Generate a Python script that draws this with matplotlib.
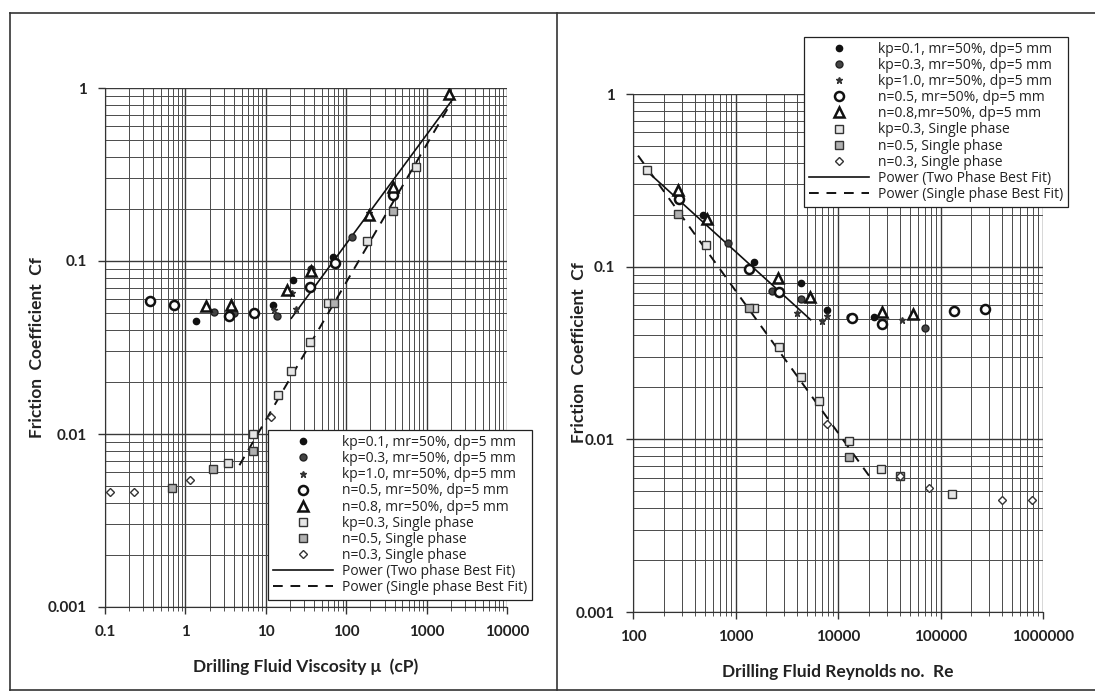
import matplotlib
matplotlib.use('Agg')
import matplotlib.pyplot as plt
from matplotlib.lines import Line2D
from matplotlib.ticker import LogLocator, FixedLocator, FixedFormatter, NullFormatter

plt.rcParams['font.family'] = ['Lato', 'DejaVu Sans']

# ---- left panel: friction coefficient vs viscosity (cP) ----
kp01_mu = [1.35, 12.2, 21.6, 68, 378]
kp01_mu_cf = [0.045, 0.056, 0.078, 0.106, 0.25]
kp03_mu = [2.3, 4.0, 13.6, 36, 117]
kp03_mu_cf = [0.051, 0.050, 0.048, 0.09, 0.138]
kp10_mu = [12.5, 24, 21, 190]
kp10_mu_cf = [0.052, 0.053, 0.065, 0.19]
n05_mu = [0.36, 0.72, 3.5, 7.1, 35.5, 72, 378]
n05_mu_cf = [0.059, 0.056, 0.048, 0.050, 0.071, 0.098, 0.24]
n08_mu = [1.8, 3.65, 18.2, 36, 190, 378, 1900]
n08_mu_cf = [0.055, 0.0557, 0.068, 0.087, 0.185, 0.267, 0.92]
sp_kp03_mu = [738, 183, 60, 35, 20.8, 14, 6.9, 3.4]
sp_kp03_mu_cf = [0.348, 0.131, 0.057, 0.034, 0.023, 0.0168, 0.00995, 0.0068]
sp_n05_mu = [378, 70, 6.9, 2.2, 0.69]
sp_n05_mu_cf = [0.195, 0.057, 0.008, 0.00625, 0.0049]
sp_n03_mu = [0.115, 0.23, 1.14, 11.5]
sp_n03_mu_cf = [0.00464, 0.00464, 0.0054, 0.0125]
tp_fit_mu = [20.8, 2150]
tp_fit_mu_cf = [0.0467, 0.87]
sp_fit_mu = [4.7, 2040]
sp_fit_mu_cf = [0.0066, 0.83]

# ---- right panel: friction coefficient vs Reynolds number ----
kp01_re = [483, 1510, 4400, 7730, 22400]
kp01_re_cf = [0.198, 0.106, 0.080, 0.0558, 0.051]
kp03_re = [848, 2290, 4400, 13000, 70700]
kp03_re_cf = [0.138, 0.072, 0.065, 0.051, 0.044]
kp10_re = [3940, 6920, 7730, 41700]
kp10_re_cf = [0.054, 0.0484, 0.052, 0.049]
n05_re = [279, 1350, 2650, 13600, 26700, 135000, 272000]
n05_re_cf = [0.248, 0.097, 0.071, 0.0504, 0.0468, 0.0551, 0.0568]
n08_re = [276, 528, 2600, 5320, 26700, 53400]
n08_re_cf = [0.277, 0.19, 0.086, 0.067, 0.0546, 0.0534]
sp_kp03_re = [137, 521, 1510, 2630, 4310, 6460, 12900, 26000, 129000]
sp_kp03_re_cf = [0.361, 0.133, 0.0575, 0.0342, 0.023, 0.0166, 0.0098, 0.0067, 0.0048]
sp_n05_re = [276, 1350, 12900, 40000]
sp_n05_re_cf = [0.201, 0.0575, 0.0079, 0.0061]
sp_n03_re = [7800, 40000, 78000, 397000, 776000]
sp_n03_re_cf = [0.0123, 0.0061, 0.0052, 0.00448, 0.00448]
tp_fit_re = [146, 5400]
tp_fit_re_cf = [0.345, 0.0493]
sp_fit_re = [112, 20500]
sp_fit_re_cf = [0.44, 0.00605]

y_ticks = [0.001, 0.01, 0.1, 1]
y_tick_labels = ['0.001', '0.01', '0.1', '1']
mu_ticks = [0.1, 1, 10, 100, 1000, 10000]
mu_tick_labels = ['0.1', '1', '10', '100', '1000', '10000']
re_ticks = [100, 1000, 10000, 100000, 1000000]
re_tick_labels = ['100', '1000', '10000', '100000', '1000000']

W, H = 1095, 694
fig = plt.figure(figsize=(W / 100, H / 100), dpi=100, facecolor='white')


def box(x0, y0, x1, y1):
    # pixel box (top-left origin) -> figure fraction rect
    return [x0 / W, 1 - y1 / H, (x1 - x0) / W, (y1 - y0) / H]


ax_l = fig.add_axes(box(105, 88, 507, 607))
ax_r = fig.add_axes(box(633, 94, 1043, 612))

styles = {
    'kp01': dict(marker='o', ms=4.5, mfc='#111', mec='#111', ls='none'),
    'kp03': dict(marker='o', ms=5, mfc='#444', mec='#222', ls='none'),
    'kp10': dict(marker='*', ms=5, mfc='#333', mec='#333', ls='none'),
    'n05': dict(marker='o', ms=6.5, mfc='white', mec='#111', mew=1.8, ls='none'),
    'n08': dict(marker='^', ms=7, mfc='white', mec='#111', mew=1.8, ls='none'),
    'sp_kp03': dict(marker='s', ms=6, mfc='#e6e6e6', mec='#333', mew=1.0, ls='none'),
    'sp_n05': dict(marker='s', ms=6, mfc='#b0b0b0', mec='#333', mew=1.0, ls='none'),
    'sp_n03': dict(marker='D', ms=4, mfc='white', mec='#333', mew=1.0, ls='none'),
}


def draw(ax, series, fits, labels):
    for key, xs, ys in series:
        ax.plot(xs, ys, label=labels[key], zorder=4, **styles[key])
    (tx, ty), (sx, sy) = fits
    ax.plot(tx, ty, color='#111', lw=1.2, label=labels['tp'], zorder=3)
    ax.plot(sx, sy, color='#111', lw=1.4, ls=(0, (5, 4)), label=labels['sp'], zorder=3)


def style_axes(ax, xlim, xticks, xlabels, xlabel, ylab_x):
    ax.set_xscale('log')
    ax.set_yscale('log')
    ax.set_xlim(*xlim)
    ax.set_ylim(0.001, 1)
    ax.xaxis.set_major_locator(FixedLocator(xticks))
    ax.xaxis.set_major_formatter(FixedFormatter(xlabels))
    ax.xaxis.set_minor_locator(LogLocator(base=10, subs=range(2, 10)))
    ax.xaxis.set_minor_formatter(NullFormatter())
    ax.yaxis.set_major_locator(FixedLocator(y_ticks))
    ax.yaxis.set_major_formatter(FixedFormatter(y_tick_labels))
    ax.yaxis.set_minor_locator(LogLocator(base=10, subs=range(2, 10)))
    ax.yaxis.set_minor_formatter(NullFormatter())
    ax.grid(which='major', color='#3a3a3a', lw=1.0)
    ax.grid(which='minor', color='#4a4a4a', lw=0.7)
    ax.set_axisbelow(True)
    for s in ['top', 'right']:
        ax.spines[s].set_visible(False)
    ax.spines['left'].set_color('#333')
    ax.spines['bottom'].set_color('#333')
    ax.tick_params(which='major', direction='out', length=5, width=1, color='#333',
                   labelsize=11, pad=8)
    ax.tick_params(axis='y', which='minor', length=0)
    ax.tick_params(axis='x', which='minor', direction='out', length=3, color='#333')
    for lab in ax.get_xticklabels() + ax.get_yticklabels():
        lab.set_fontweight('bold')
        lab.set_color('#222')
    ax.set_xlabel(xlabel, fontsize=12.5, fontweight='bold', color='#222', labelpad=14)
    ax.set_ylabel('Friction  Coefficient  Cf', fontsize=12.5, fontweight='bold',
                  color='#222')
    ax.yaxis.set_label_coords(ylab_x, 0.5)


labels_l = {
    'kp01': 'kp=0.1, mr=50%, dp=5 mm', 'kp03': 'kp=0.3, mr=50%, dp=5 mm',
    'kp10': 'kp=1.0, mr=50%, dp=5 mm', 'n05': 'n=0.5, mr=50%, dp=5 mm',
    'n08': 'n=0.8, mr=50%, dp=5 mm', 'sp_kp03': 'kp=0.3, Single phase',
    'sp_n05': 'n=0.5, Single phase', 'sp_n03': 'n=0.3, Single phase',
    'tp': 'Power (Two phase Best Fit)', 'sp': 'Power (Single phase Best Fit)',
}
labels_r = dict(labels_l)
labels_r['n08'] = 'n=0.8,mr=50%, dp=5 mm'
labels_r['tp'] = 'Power (Two Phase Best Fit)'

draw(ax_l, [('kp01', kp01_mu, kp01_mu_cf), ('kp03', kp03_mu, kp03_mu_cf),
            ('kp10', kp10_mu, kp10_mu_cf), ('n05', n05_mu, n05_mu_cf),
            ('n08', n08_mu, n08_mu_cf), ('sp_kp03', sp_kp03_mu, sp_kp03_mu_cf),
            ('sp_n05', sp_n05_mu, sp_n05_mu_cf), ('sp_n03', sp_n03_mu, sp_n03_mu_cf)],
     [(tp_fit_mu, tp_fit_mu_cf), (sp_fit_mu, sp_fit_mu_cf)], labels_l)
draw(ax_r, [('kp01', kp01_re, kp01_re_cf), ('kp03', kp03_re, kp03_re_cf),
            ('kp10', kp10_re, kp10_re_cf), ('n05', n05_re, n05_re_cf),
            ('n08', n08_re, n08_re_cf), ('sp_kp03', sp_kp03_re, sp_kp03_re_cf),
            ('sp_n05', sp_n05_re, sp_n05_re_cf), ('sp_n03', sp_n03_re, sp_n03_re_cf)],
     [(tp_fit_re, tp_fit_re_cf), (sp_fit_re, sp_fit_re_cf)], labels_r)

style_axes(ax_l, (0.1, 10000), mu_ticks, mu_tick_labels,
           'Drilling Fluid Viscosity \u03bc  (cP)', (45 - 105) / 402)
style_axes(ax_r, (100, 1000000), re_ticks, re_tick_labels,
           'Drilling Fluid Reynolds no.  Re', (587 - 633) / 410)

leg_kw = dict(prop={'family': 'Open Sans', 'size': 10}, frameon=True, fancybox=False,
              framealpha=1, edgecolor='#222', handlelength=4.3, handletextpad=0.65,
              labelspacing=0.08, borderpad=0.35, numpoints=1, borderaxespad=0)
leg_l = ax_l.legend(loc='lower right', bbox_to_anchor=(532 / W, 1 - 600 / H),
                    bbox_transform=fig.transFigure, **leg_kw)
leg_r = ax_r.legend(loc='upper right', bbox_to_anchor=(1068 / W, 1 - 37 / H),
                    bbox_transform=fig.transFigure, **leg_kw)
for leg in (leg_l, leg_r):
    leg.get_frame().set_linewidth(0.9)
    leg.set_zorder(10)
    for t in leg.get_texts():
        t.set_color('#222')

# scanned page frame lines
frame_kw = dict(color='#333', lw=1.2, transform=fig.transFigure)
fig.add_artist(Line2D([10 / W, 1], [1 - 13 / H, 1 - 13 / H], **frame_kw))
fig.add_artist(Line2D([10 / W, 1], [1 - 690 / H, 1 - 690 / H], **frame_kw))
fig.add_artist(Line2D([10 / W, 10 / W], [1 - 13 / H, 1 - 690 / H], **frame_kw))
fig.add_artist(Line2D([557 / W, 557 / W], [1 - 13 / H, 1 - 690 / H], **frame_kw))

fig.savefig('out.png', dpi=100, facecolor='white')
